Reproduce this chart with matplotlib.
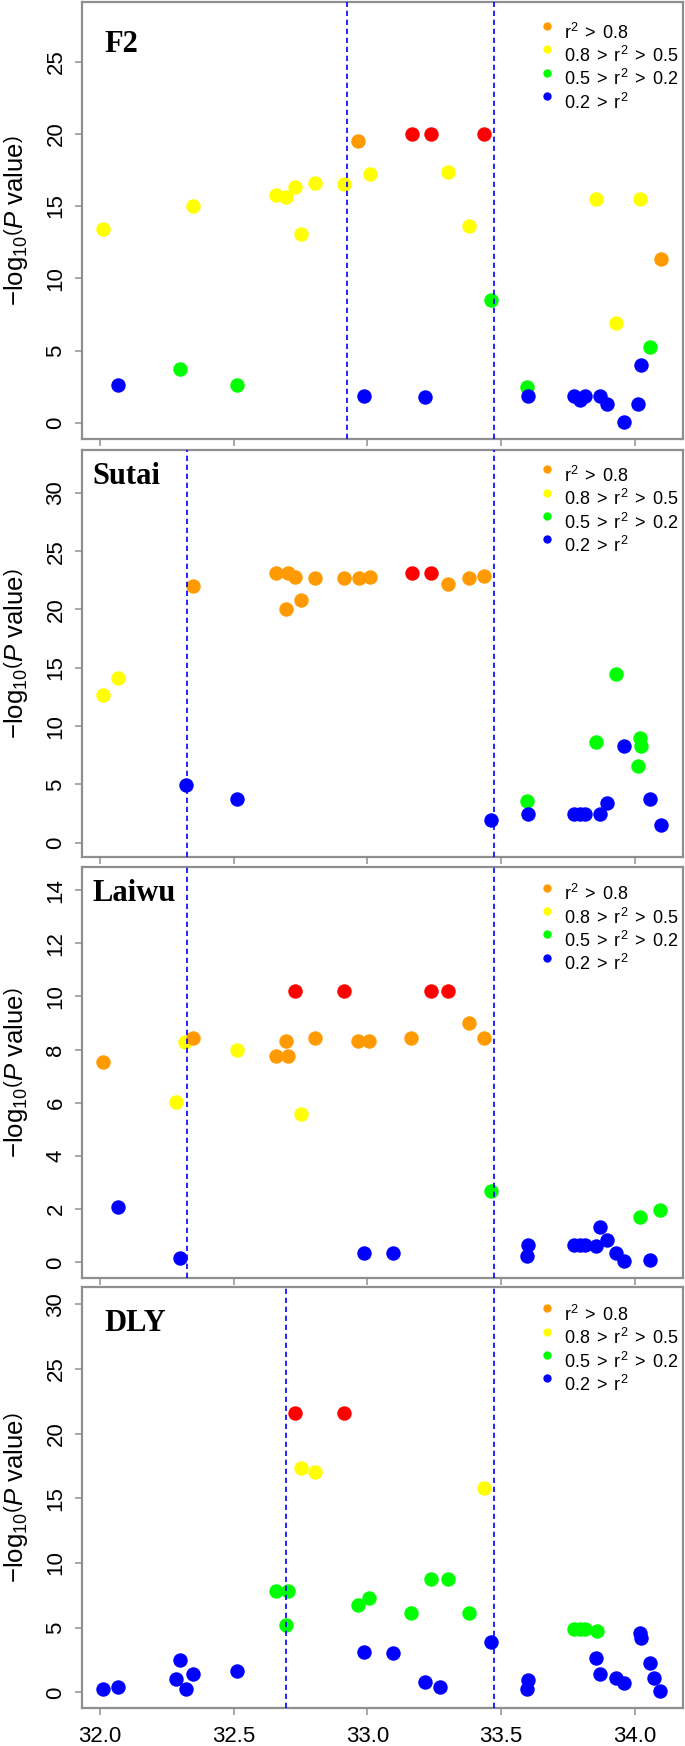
import matplotlib
matplotlib.use("Agg")
import matplotlib.pyplot as plt

# ---------------- data ----------------
panel_names = ["F2", "Sutai", "Laiwu", "DLY"]

f2_x = [32.013, 32.349, 32.658, 32.697, 32.728, 32.753, 32.803, 32.914, 33.009, 33.301, 33.380, 33.856, 34.018, 33.930,
        32.965, 34.096,
        33.166, 33.239, 33.437,
        33.463, 34.057, 32.300, 32.511, 33.595,
        34.021, 32.069, 32.986, 33.216, 33.602, 33.773, 33.796, 33.814, 33.871, 33.894, 33.959, 34.010]
f2_y = [13.39, 15.00, 15.74, 15.62, 16.33, 13.09, 16.59, 16.54, 17.21, 17.34, 13.64, 15.51, 15.51, 6.91,
        19.51, 11.32,
        19.99, 19.99, 19.99,
        8.52, 5.28, 3.74, 2.65, 2.50,
        4.03, 2.60, 1.85, 1.82, 1.85, 1.87, 1.58, 1.87, 1.87, 1.28, 0.05, 1.28]
f2_c = ["Y"] * 14 + ["O"] * 2 + ["R"] * 3 + ["G"] * 5 + ["B"] * 12

sutai_x = [32.013, 32.069,
           32.349, 32.660, 32.702, 32.730, 32.803, 32.694, 32.753, 32.914, 32.967, 33.009, 33.301, 33.380, 33.437,
           33.166, 33.239,
           33.931, 33.856, 34.020, 34.023, 34.010, 33.595,
           33.961, 32.323, 32.513, 33.463, 33.602, 33.773, 33.796, 33.814, 33.871, 33.894, 34.057, 34.096]
sutai_y = [12.65, 14.13,
           22.01, 23.11, 23.11, 22.80, 22.69, 20.00, 20.84, 22.66, 22.66, 22.80, 22.21, 22.66, 22.83,
           23.17, 23.17,
           14.47, 8.63, 8.94, 8.26, 6.56, 3.57,
           8.31, 4.94, 3.71, 1.94, 2.43, 2.43, 2.43, 2.43, 2.43, 3.37, 3.71, 1.51]
sutai_c = ["Y"] * 2 + ["O"] * 13 + ["R"] * 2 + ["G"] * 6 + ["B"] * 12

laiwu_x = [32.013, 32.349, 32.694, 32.660, 32.704, 32.803, 32.965, 33.007, 33.164, 33.380, 33.437,
           32.318, 32.284, 32.513, 32.753,
           32.728, 32.913, 33.239, 33.300,
           33.463, 34.020, 34.095,
           32.069, 32.300, 32.986, 33.096, 33.597, 33.602, 33.773, 33.796, 33.814, 33.855, 33.869, 33.894,
           33.930, 33.959, 34.057]
laiwu_y = [7.55, 8.45, 8.31, 7.77, 7.77, 8.43, 8.31, 8.31, 8.43, 8.99, 8.43,
           8.28, 6.02, 7.97, 5.58,
           10.22, 10.22, 10.22, 10.22,
           2.67, 1.72, 1.98,
           2.07, 0.16, 0.35, 0.35, 0.23, 0.66, 0.66, 0.66, 0.66, 0.60, 1.32, 0.85,
           0.35, 0.04, 0.08]
laiwu_c = ["O"] * 11 + ["Y"] * 4 + ["R"] * 4 + ["G"] * 3 + ["B"] * 15

dly_x = [32.728, 32.913,
         32.753, 32.803, 33.437,
         32.660, 32.704, 32.694, 32.965, 33.007, 33.164, 33.239, 33.300, 33.380, 33.773, 33.796, 33.814, 33.860,
         32.013, 32.069, 32.284, 32.300, 32.323, 32.349, 32.513, 32.986, 33.096, 33.216, 33.270, 33.463,
         33.595, 33.602, 33.855, 33.869, 33.930, 33.959, 34.018, 34.023, 34.057, 34.073, 34.095]
dly_y = [21.56, 21.56,
         17.35, 17.04, 15.80,
         7.80, 7.80, 5.24, 6.76, 7.28, 6.15, 8.73, 8.73, 6.15, 4.91, 4.91, 4.91, 4.78,
         0.23, 0.44, 1.00, 2.50, 0.26, 1.42, 1.63, 3.15, 3.07, 0.83, 0.44, 3.92,
         0.26, 0.96, 2.63, 1.42, 1.08, 0.70, 4.62, 4.18, 2.25, 1.08, 0.13]
dly_c = ["R"] * 2 + ["Y"] * 3 + ["G"] * 13 + ["B"] * 23

vlines = [[32.924, 33.474], [32.327, 33.474], [32.327, 33.474], [32.694, 33.474]]

y_ticks = [[0, 5, 10, 15, 20, 25], [0, 5, 10, 15, 20, 25, 30],
           [0, 2, 4, 6, 8, 10, 12, 14], [0, 5, 10, 15, 20, 25, 30]]
y_lims = [(-1.12, 29.12), (-1.23, 33.68), (-0.59, 14.87), (-1.21, 31.34)]
x_ticks = [32.0, 32.5, 33.0, 33.5, 34.0]
x_tick_labels = ["32.0", "32.5", "33.0", "33.5", "34.0"]

legend_labels = [r"$\mathrm{r}^{2}\;>\;0.8$", r"$0.8\;>\;\mathrm{r}^{2}\;>\;0.5$",
                 r"$0.5\;>\;\mathrm{r}^{2}\;>\;0.2$", r"$0.2\;>\;\mathrm{r}^{2}$"]

# ---------------- style ----------------
plt.rcParams["font.family"] = ["Liberation Sans", "DejaVu Sans"]
plt.rcParams["mathtext.fontset"] = "custom"
plt.rcParams["mathtext.rm"] = "Liberation Sans"
plt.rcParams["mathtext.it"] = "Liberation Sans:italic"
plt.rcParams["mathtext.bf"] = "Liberation Sans:bold"

colors = {"R": "#FF0000", "O": "#FF9A00", "Y": "#FFFF00", "G": "#00FF00", "B": "#0000FF"}
legend_colors = ["#FF9A00", "#FFFF00", "#00FF00", "#0000FF"]
draw_order = ["G", "Y", "O", "R", "B"]
frame_col = "#8f8f8f"

W, H = 685, 1746
left_px, right_px = 81.7, 682.5
boxes = [(2, 439), (450, 857), (867, 1278), (1287, 1708)]
legend_top = [24.0, 19.3, 20.7, 21.3]
label_pos = [(32.016, 25.69), (31.971, 30.79), (31.971, 13.60), (32.016, 27.94)]

fig = plt.figure(figsize=(W / 100, H / 100), dpi=100)

data = [(f2_x, f2_y, f2_c), (sutai_x, sutai_y, sutai_c),
        (laiwu_x, laiwu_y, laiwu_c), (dly_x, dly_y, dly_c)]

for i, (top, bot) in enumerate(boxes):
    ax = fig.add_axes([left_px / W, 1 - bot / H, (right_px - left_px) / W, (bot - top) / H])
    xs, ys, cs = data[i]
    for cat in draw_order:
        px = [x for x, c in zip(xs, cs) if c == cat]
        py = [y for y, c in zip(ys, cs) if c == cat]
        ax.scatter(px, py, s=108, c=colors[cat], linewidths=0, zorder=2)
    for v in vlines[i]:
        ax.axvline(v, color="#0000FF", lw=1.2, ls=(0, (3.2, 2.2)), zorder=3)

    ax.set_xlim(31.932, 34.178)
    ax.set_ylim(*y_lims[i])
    ax.set_xticks(x_ticks)
    if i == 3:
        ax.set_xticklabels(x_tick_labels, fontsize=16)
    else:
        ax.set_xticklabels([])
    ax.set_yticks(y_ticks[i])
    ax.set_yticklabels([str(t) for t in y_ticks[i]], fontsize=16, rotation=90, va="center")
    ax.tick_params(axis="both", direction="out", length=5, width=1.1, color=frame_col)
    ax.tick_params(axis="y", pad=6)
    ax.tick_params(axis="x", pad=8)
    for sp in ax.spines.values():
        sp.set_color(frame_col)
        sp.set_linewidth(1.6)

    # panel label
    ax.text(label_pos[i][0], label_pos[i][1], panel_names[i], fontsize=22, fontweight="bold",
            family=["Liberation Serif", "DejaVu Serif"], ha="left", va="baseline", zorder=4)

    # legend
    hpx = bot - top
    wpx = right_px - left_px
    dot_fx = (547.3 - left_px) / wpx
    txt_fx = (563.5 - left_px) / wpx
    for k, lab in enumerate(legend_labels):
        dy = legend_top[i] + k * 23.3
        ax.scatter([dot_fx], [1 - dy / hpx], s=36, c=legend_colors[k], linewidths=0,
                   transform=ax.transAxes, zorder=4, clip_on=False)
        ax.text(txt_fx, 1 - (dy + 12.7) / hpx, lab, fontsize=13, transform=ax.transAxes,
                ha="left", va="baseline", zorder=4)

    # y label
    fig.text(16 / W, 1 - (top + bot) / 2 / H,
             r"$-\mathrm{log}_{10}\left(\mathit{P}\ \mathrm{value}\right)$",
             rotation=90, ha="center", va="center", fontsize=18.5)

fig.savefig("out.png", dpi=100)
